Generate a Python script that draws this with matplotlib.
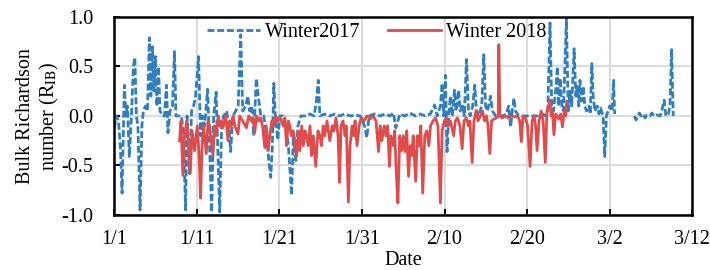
import numpy as np
import matplotlib
matplotlib.use('Agg')
import matplotlib.pyplot as plt

# days after 1 Jan, Richardson number
days_2017 = [0.0, 0.24, 0.49, 0.73, 0.94, 1.09, 1.22, 1.4, 1.58, 1.82, 2.07, 2.31, 2.49, 2.67,
             2.86, 3.12, 3.34, 3.52, 3.77, 4.01, 4.25, 4.43, 4.62, 4.8, 4.98, 5.16, 5.35, 5.53,
             5.83, 6.08, 6.32, 6.5, 6.74, 7.05, 7.29, 7.47, 7.78, 8.14, 8.38, 8.63, 8.81, 9.11,
             9.36, 9.6, 9.84, 10.2, 10.45, 10.69, 10.94, 11.3, 11.54, 11.79, 12.03, 12.33, 12.52,
             12.76, 13.0, 13.24, 13.6, 13.85, 14.09, 14.34, 14.7, 15.0, 15.31, 15.55, 15.92,
             16.16, 16.4, 16.65, 16.89, 17.2, 17.44, 17.74, 18.1, 18.47, 18.71, 18.95, 19.14,
             19.32, 19.5, 19.8, 20.05, 20.41, 20.78, 21.08, 21.47, 21.69, 21.99, 22.24, 22.6,
             23.2, 23.7, 24.2, 24.48, 24.7, 24.9, 25.5, 26.1, 26.7, 27.3, 27.9, 28.6, 29.2, 29.8,
             30.3, 30.58, 30.86, 31.5, 32.2, 32.8, 33.4, 33.8, 34.1, 34.6, 35.2, 35.8, 36.45,
             37.06, 37.67, 38.27, 38.8, 39.1, 39.5, 39.7, 39.9, 40.1, 40.3, 40.5, 40.7, 40.95,
             41.2, 41.4, 41.7, 41.9, 42.2, 42.4, 42.65, 42.9, 43.1, 43.4, 43.66, 43.86, 44.1,
             44.5, 44.75, 44.96, 45.2, 45.57, 45.8, 46.2, 46.5, 47.0, 47.5, 47.75, 48.0, 48.2,
             48.4, 48.6, 48.97, 49.45, 49.9, 50.4, 50.9, 51.4, 51.9, 52.2, 52.5, 52.77, 52.98,
             53.2, 53.5, 53.67, 53.8, 54.0, 54.2, 54.4, 54.76, 54.98, 55.2, 55.4, 55.69, 55.9,
             56.07, 56.26, 56.4, 56.6, 56.8, 56.98, 57.2, 57.5, 57.65, 57.84, 58.0, 58.2, 58.5,
             58.7, 58.9, 59.2, 59.4, 59.6, 59.8, 60.0, 60.3, 60.47, 60.6, 61.5, 62.98, 63.2,
             63.4, 63.6, 63.8, 64.0, 64.3, 64.5, 64.9, 65.1, 65.4, 65.7, 66.1, 66.3, 66.6, 66.8,
             67.1, 67.3, 67.5, 67.7]
rib_2017 = [-0.12, 0.0, -0.05, -0.3, -0.78, -0.2, 0.31, 0.0, 0.1, -0.41, 0.0, 0.5, 0.59, 0.0,
            -0.1, -0.95, -0.1, 0.05, 0.1, 0.05, 0.79, 0.2, 0.7, 0.25, 0.6, 0.1, 0.5, 0.05,
            0.0, 0.0, 0.31, -0.17, 0.05, 0.1, 0.65, 0.0, 0.0, 0.0, -0.2, -0.95, 0.0, -0.58,
            0.05, 0.1, 0.2, 0.6, -0.2, 0.0, -0.1, 0.27, -0.3, -0.97, 0.0, 0.24, -0.3,
            -0.97, -0.1, 0.0, 0.05, -0.1, -0.36, 0.0, 0.05, 0.1, 0.82, 0.05, 0.1,
            0.2, 0.05, 0.1, -0.2, 0.38, 0.2, 0.0, 0.0, -0.2, -0.45, -0.62, -0.3,
            0.33, 0.0, -0.24, 0.0, 0.0, -0.1, -0.3, -0.8, -0.2, -0.45, -0.1, 0.0,
            0.0, 0.02, 0.0, 0.15, 0.36, 0.0, 0.02, 0.0, 0.02, 0.0, 0.02, 0.0, 0.01, 0.0,
            -0.1, -0.22, 0.0, 0.02, 0.0, 0.02, 0.0, 0.03, -0.12, 0.02, 0.0, 0.03, 0.0,
            0.02, 0.0, 0.02, 0.11, 0.0, 0.1, 0.33, 0.0, 0.41, -0.36, 0.0, 0.2, 0.0,
            0.26, 0.05, 0.26, 0.05, 0.1, 0.0, 0.57, 0.05, 0.0, 0.1, 0.31, 0.05, 0.0,
            0.1, 0.62, 0.1, 0.05, 0.2, 0.05, 0.0, 0.0, 0.0, 0.02, 0.1, -0.11, 0.05,
            0.18, 0.05, 0.0, 0.0, 0.0, 0.0, 0.0, 0.0, 0.02, 0.0, 0.05, 0.94, 0.1,
            0.05, 0.3, 0.5, 0.1, 0.38, 0.1, 0.05, 0.98, 0.05, 0.25, 0.1, 0.68, 0.2,
            0.3, 0.1, 0.36, 0.15, 0.3, 0.1, 0.05, 0.1, 0.02, 0.53, 0.2, 0.05, 0.1,
            0.02, 0.08, 0.0, -0.41, 0.0, 0.05, 0.1, 0.05, 0.36, 0.02, np.nan, 0.0, -0.04,
            0.0, 0.03, 0.0, 0.02, -0.02, 0.01, 0.0, 0.03, 0.0, 0.01, 0.0, 0.05, 0.16, 0.0,
            0.02, 0.1, 0.67, 0.0]

days_2018 = [7.9, 8.08, 8.3, 8.5, 8.78, 9.0, 9.2, 9.42, 9.72, 10.05, 10.27, 10.45, 10.63, 10.81,
             11.14, 11.36, 11.54, 11.94, 12.15, 12.36, 12.58, 12.76, 13.0, 13.16, 13.49, 13.77,
             13.97, 14.18, 14.4, 14.58, 14.98, 15.19, 15.55, 16.0, 16.28, 16.6, 16.83, 17.0,
             17.25, 17.5, 17.74, 17.98, 18.23, 18.4, 18.63, 18.83, 19.08, 19.32, 19.56, 19.8,
             20.1, 20.45, 20.66, 20.86, 21.08, 21.26, 21.45, 21.66, 21.87, 22.08, 22.3, 22.48,
             22.7, 22.9, 23.09, 23.27, 23.49, 23.7, 23.9, 24.1, 24.4, 24.67, 24.9, 25.1, 25.3,
             25.5, 25.76, 26.1, 26.4, 26.6, 26.85, 27.1, 27.28, 27.46, 27.7, 27.95, 28.1, 28.35,
             28.55, 28.8, 29.0, 29.16, 29.4, 29.65, 29.9, 30.25, 30.6, 31.0, 31.35, 31.7, 32.0,
             32.2, 32.4, 32.7, 32.9, 33.1, 33.33, 33.5, 33.8, 33.96, 34.14, 34.35, 34.57, 34.8,
             35.0, 35.2, 35.42, 35.64, 35.85, 36.03, 36.2, 36.5, 36.7, 36.94, 37.12, 37.36,
             37.6, 37.85, 38.1, 38.3, 38.6, 38.9, 39.2, 39.5, 39.7, 39.98, 40.2, 40.46, 40.7,
             41.1, 41.3, 41.55, 41.86, 42.13, 42.35, 42.65, 42.9, 43.07, 43.34, 43.56, 43.8,
             44.05, 44.35, 44.6, 44.84, 45.08, 45.26, 45.48, 45.7, 46.0, 46.3, 46.5, 46.57,
             46.7, 47.0, 47.4, 47.75, 48.1, 48.5, 48.85, 49.1, 49.3, 49.5, 49.8, 50.06, 50.36,
             50.6, 50.85, 51.03, 51.2, 51.45, 51.7, 51.94, 52.2, 52.4, 52.6, 52.77, 52.9, 53.06,
             53.25, 53.46, 53.64, 53.83, 54.07, 54.28, 54.5, 54.68, 54.8]
rib_2018 = [-0.25, -0.05, -0.6, -0.2, -0.05, -0.3, -0.58, -0.15, -0.35, -0.1, -0.4, -0.83, -0.3, -0.1,
            -0.38, -0.05, -0.1, -0.4, -0.1, -0.2, 0.0, -0.1, -0.05, -0.12, 0.0, -0.25,
            -0.05, -0.1, 0.0, -0.1, -0.18, 0.0, -0.05, -0.12, 0.0, -0.05, -0.02, -0.17,
            0.0, -0.05, -0.02, -0.12, -0.32, -0.1, -0.35, -0.2, -0.05, -0.1, 0.0, -0.05,
            -0.02, -0.1, -0.02, -0.3, -0.05, -0.1, -0.2, -0.15, -0.25, -0.41, -0.15, -0.35,
            -0.1, -0.3, -0.15, -0.2, -0.3, -0.1, -0.4, -0.2, -0.51, -0.15, -0.2, -0.3, -0.1,
            -0.2, -0.05, -0.25, -0.1, -0.15, -0.02, -0.2, -0.67, -0.1, -0.05, -0.2, -0.1, -0.87,
            -0.3, -0.1, -0.2, -0.05, -0.3, -0.1, -0.02, -0.05, 0.0, -0.03, 0.0, -0.05, -0.36,
            -0.1, -0.25, -0.1, -0.2, -0.1, -0.51, -0.2, -0.3, -0.15, -0.55, -0.88, -0.2, -0.35,
            -0.2, -0.36, -0.15, -0.61, -0.3, -0.4, -0.2, -0.66, -0.2, -0.3, -0.1, -0.78,
            -0.2, -0.15, -0.3, -0.1, -0.05, -0.02, -0.1, -0.88, -0.15, -0.05, -0.02, -0.1, -0.05,
            -0.2, -0.05, -0.02, -0.1, -0.33, -0.05, -0.02, -0.1, -0.05, -0.47, -0.05, 0.05,
            -0.05, 0.0, 0.05, -0.05, 0.0, -0.1, -0.38, -0.05, -0.03, -0.02, 0.0, 0.72,
            0.0, -0.02, 0.0, -0.02, 0.0, -0.01, 0.0, -0.05, -0.26, 0.0, -0.02, -0.1, -0.51,
            -0.05, 0.0, -0.1, -0.35, -0.05, 0.05, -0.05, -0.47, 0.05, 0.1, 0.16, 0.0, 0.05,
            -0.19, 0.02, 0.0, -0.03, 0.02, -0.11, 0.05, 0.0, 0.15]

tick_days = [0, 10, 20, 30, 40, 50, 60, 70]
tick_labels = ['1/1', '1/11', '1/21', '1/31', '2/10', '2/20', '3/2', '3/12']

plt.rcParams['font.family'] = 'Liberation Serif'
plt.rcParams['mathtext.fontset'] = 'stix'

fig = plt.figure(figsize=(7.1, 2.7), dpi=100)
ax = fig.add_axes([0.161, 0.204, 0.814, 0.733])

blue, = ax.plot(days_2017, rib_2017, color='#2E7EC0', lw=2.0, ls=(0, (2.5, 1.0)))
red, = ax.plot(days_2018, rib_2018, color='#E04C4C', lw=2.0)

ax.set_xlim(0, 70)
ax.set_ylim(-1.0, 1.0)
ax.set_xticks(tick_days)
ax.set_xticklabels(tick_labels)
ax.set_yticks([-1.0, -0.5, 0.0, 0.5, 1.0])
ax.set_yticklabels(['-1.0', '-0.5', '0.0', '0.5', '1.0'])
ax.tick_params(labelsize=14.5, direction='in', length=4, width=1.4)
ax.tick_params(axis='y', pad=15)
ax.tick_params(axis='x', pad=11)
ax.grid(True, color='#d9d9d9', lw=1.3)
ax.set_axisbelow(True)
for s in ax.spines.values():
    s.set_linewidth(1.8)

ax.set_xlabel('Date', fontsize=14.5, labelpad=1)
ax.set_ylabel('Bulk Richardson\nnumber (R$_{\\mathrm{IB}}$)', fontsize=14.5, labelpad=0.5,
              linespacing=1.15)

ax.legend([blue, red], ['Winter2017', 'Winter 2018'], loc='center', ncol=2,
          frameon=False, fontsize=14.5, handlelength=2.6, handletextpad=0.25,
          columnspacing=1.4, bbox_to_anchor=(0.454, 0.924))

fig.savefig('out.png', dpi=100)
